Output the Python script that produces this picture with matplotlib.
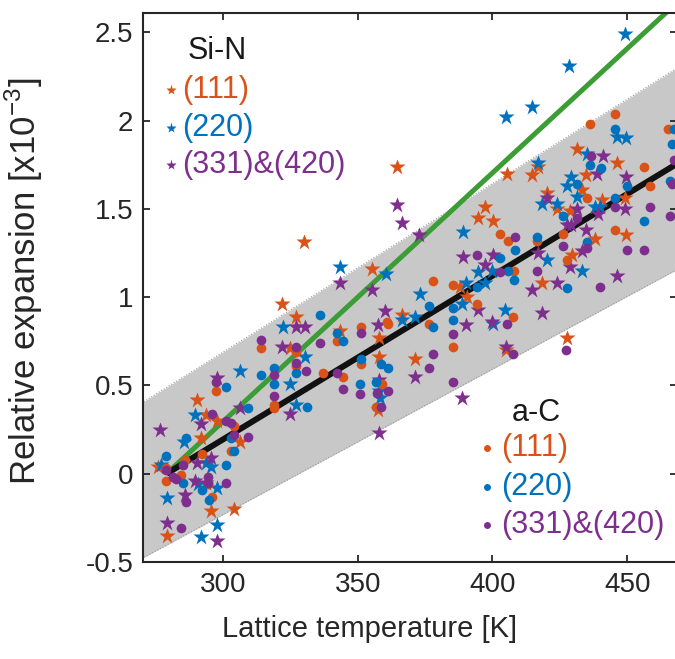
import numpy as np
import matplotlib.pyplot as plt
from matplotlib.ticker import FuncFormatter

# colours (MATLAB default order)
c111 = '#D95319'
c220 = '#0072BD'
c331 = '#7E2F8E'

# ---- Si-N (stars) ----
sin111_T = [322, 327, 325, 290.5, 293.8, 297.8, 291.9, 306.2, 275.9, 295.4, 304.1, 279.2,
            330.1, 364.7, 355.2, 397.2, 394.8, 400.1, 388.0, 390.5, 366.3, 358.0, 343.4, 358.0,
            371.3, 357.6, 405.3, 431.3, 446.1, 417.0, 414.6, 434.7, 433.1, 420.2, 423.9, 440.6,
            449.2, 428.8, 449.6, 438.1, 429.4, 418.3, 405.0, 427.6]
sin111_V = [0.96, 0.89, 0.71, 0.42, 0.33, 0.30, 0.20, 0.18, 0.04, -0.21, -0.20, -0.35,
            1.31, 1.74, 1.16, 1.51, 1.45, 1.43, 1.06, 1.00, 0.90, 0.77, 0.81, 0.66,
            0.65, 0.36, 1.70, 1.84, 1.76, 1.74, 1.69, 1.69, 1.61, 1.59, 1.50, 1.55,
            1.56, 1.49, 1.35, 1.33, 1.24, 1.08, 0.70, 0.77]

sin220_T = [322.3, 330.5, 306.2, 325.0, 327.2, 289.5, 285.4, 293.8, 295.7, 277.1, 290.7, 297.8,
            279.2, 297.8, 291.9, 343.4, 360.4, 373.1, 389.0, 394.8, 399.7, 390.1, 397.2, 405.0,
            366.3, 371.3, 388.6, 400.3, 358.0, 358.3, 449.2, 428.5, 414.6, 446.1, 449.6, 435.0,
            417.0, 429.2, 427.6, 431.3, 418.3, 423.9, 438.1, 440.0, 420.2, 433.1, 404.6]
sin220_V = [0.83, 0.66, 0.58, 0.51, 0.39, 0.33, 0.18, 0.06, 0.04, 0.05, -0.06, -0.08,
            -0.14, -0.29, -0.36, 1.17, 1.13, 1.02, 1.37, 1.14, 1.15, 1.08, 1.08, 2.02,
            0.87, 0.89, 0.96, 0.85, 0.47, 0.43, 2.49, 2.31, 2.08, 1.91, 1.90, 1.81,
            1.76, 1.68, 1.63, 1.57, 1.53, 1.53, 1.51, 1.51, 1.21, 1.15, 0.93]

sin331_T = [327.2, 330.5, 322.0, 297.8, 306.2, 324.8, 291.9, 276.7, 295.4, 290.3, 289.5, 293.8,
            285.8, 279.2, 297.8, 364.5, 366.3, 372.9, 343.4, 355.2, 389.0, 400.3, 397.2, 360.1,
            357.6, 394.8, 390.2, 399.7, 371.3, 388.6, 358.0, 358.0, 441.2, 438.7, 449.6, 420.2,
            449.2, 431.3, 439.3, 427.6, 429.1, 434.7, 433.1, 417.0, 428.8, 446.1, 423.9, 414.6,
            418.3, 405.0]
sin331_V = [0.83, 0.83, 0.72, 0.54, 0.37, 0.34, 0.28, 0.25, 0.09, 0.06, -0.04, -0.05,
            -0.12, -0.28, -0.38, 1.52, 1.42, 1.35, 1.08, 1.04, 1.23, 1.24, 1.18, 0.92,
            0.84, 0.93, 0.84, 0.86, 0.55, 0.43, 0.53, 0.23, 1.80, 1.70, 1.68, 1.56,
            1.50, 1.50, 1.47, 1.41, 1.41, 1.38, 1.26, 1.25, 1.17, 1.12, 1.08, 1.04,
            0.91, 0.72]

# ---- a-C (dots) ----
ac111_T = [314.2, 327.2, 327.2, 318.9, 318.9, 297.5, 303.9, 303.1, 292.3, 285.8, 278.9, 284.5,
           278.9, 294.4, 296.0, 402.8, 378.1, 385.5, 360.8, 361.4, 376.6, 394.4, 385.5, 351.1,
           342.2, 351.1, 337.0, 344.7, 358.9, 356.8, 445.5, 436.2, 465.3, 456.4, 458.5, 435.2,
           426.3, 445.5, 405.9, 416.4, 427.6, 408.0, 407.8]
ac111_V = [0.71, 0.69, 0.61, 0.39, 0.37, 0.47, 0.27, 0.13, 0.11, 0.08, 0.03, -0.01,
           -0.04, -0.06, -0.13, 1.36, 1.09, 1.07, 0.86, 0.85, 0.85, 0.96, 0.72, 0.83,
           0.75, 0.62, 0.57, 0.55, 0.51, 0.38, 2.04, 1.98, 1.95, 1.74, 1.63, 1.56,
           1.36, 1.38, 1.32, 1.32, 1.21, 1.15, 0.89]

ac220_T = [335.9, 327.2, 314.2, 318.9, 318.9, 331.0, 301.2, 309.3, 303.1, 303.9, 286.4, 278.9,
           301.2, 285.1, 292.3, 294.8, 402.8, 394.2, 376.6, 378.1, 385.5, 385.5, 342.2, 344.7,
           351.1, 358.7, 361.4, 350.8, 356.8, 445.5, 467.2, 466.6, 436.2, 440.2, 431.3, 450.1,
           465.9, 445.5, 426.3, 456.4, 416.4, 408.4, 435.2, 405.6, 408.0, 427.6]
ac220_V = [0.90, 0.57, 0.56, 0.60, 0.51, 0.38, 0.49, 0.37, 0.20, 0.13, 0.20, 0.10,
           0.05, -0.05, -0.09, -0.15, 1.22, 1.06, 0.95, 0.83, 0.94, 0.87, 0.80, 0.75,
           0.65, 0.62, 0.60, 0.51, 0.52, 1.95, 1.95, 1.87, 1.75, 1.73, 1.64, 1.63,
           1.66, 1.56, 1.46, 1.43, 1.34, 1.27, 1.31, 1.15, 1.10, 1.05]

ac331_T = [314.2, 327.2, 327.2, 330.9, 335.9, 318.9, 318.9, 297.5, 296.0, 301.2, 303.1, 303.9,
           309.3, 285.1, 278.9, 282.7, 294.4, 294.4, 301.2, 286.4, 284.3, 281.4, 394.4, 402.8,
           351.1, 385.5, 378.1, 376.6, 385.5, 342.2, 344.7, 350.8, 357.0, 361.4, 358.7, 436.5,
           467.2, 466.6, 445.5, 431.3, 458.3, 465.9, 408.4, 426.3, 435.2, 450.1, 456.4, 416.4,
           439.9, 405.3, 407.8, 427.3]
ac331_V = [0.76, 0.72, 0.63, 0.58, 0.74, 0.56, 0.44, 0.52, 0.34, 0.30, 0.29, 0.22,
           0.21, 0.05, 0.02, -0.03, -0.02, -0.05, -0.05, -0.16, -0.31, -0.02, 1.24, 1.14,
           0.80, 0.79, 0.68, 0.60, 0.52, 0.57, 0.48, 0.45, 0.46, 0.47, 0.38, 1.80,
           1.78, 1.64, 1.51, 1.45, 1.51, 1.46, 1.34, 1.29, 1.28, 1.27, 1.27, 1.15,
           1.06, 0.85, 0.68, 0.70]

# fit lines and band
fit_T = [279, 470]
black_V = [0.0, 1.77]
green_V = [0.0, 2.69]
band_T = [265, 475]
band_up = [0.355, 2.36]
band_lo = [-0.52, 1.21]

plt.rcParams['font.family'] = ['Liberation Sans', 'DejaVu Sans']

fig = plt.figure(figsize=(6.75, 6.59), dpi=100)
ax = fig.add_axes([0.2119, 0.1472, 0.7911, 0.8331])

ax.fill_between(band_T, band_lo, band_up, color='#c8c8c8', lw=0, zorder=1)
ax.plot(band_T, band_up, ls=':', color='#9a9a9a', lw=0.8, zorder=1)
ax.plot(band_T, band_lo, ls=':', color='#9a9a9a', lw=0.8, zorder=1)

ax.plot(fit_T, green_V, color='#3C9C35', lw=3.6, solid_capstyle='butt', zorder=2)
ax.plot(fit_T, black_V, color='#111111', lw=4.3, solid_capstyle='butt', zorder=2)

ms_star, ms_dot = 12, 7
for T, V, c in [(sin111_T, sin111_V, c111), (sin220_T, sin220_V, c220), (sin331_T, sin331_V, c331)]:
    ax.plot(T, V, ls='none', marker='*', ms=ms_star, color=c, mec='none', zorder=3)
for T, V, c in [(ac111_T, ac111_V, c111), (ac220_T, ac220_V, c220), (ac331_T, ac331_V, c331)]:
    ax.plot(T, V, ls='none', marker='o', ms=ms_dot, color=c, mec='none', zorder=3)

ax.set_xlim(270.3, 468.5)
ax.set_ylim(-0.5, 2.61)
ax.set_xticks([300, 350, 400, 450])
ax.set_yticks([-0.5, 0, 0.5, 1, 1.5, 2, 2.5])
ax.yaxis.set_major_formatter(FuncFormatter(lambda v, p: '%g' % v))
ax.tick_params(direction='in', length=5, width=1.3, labelsize=20, top=True, right=True,
               color='#262626', labelcolor='#262626', pad=7)
for s in ax.spines.values():
    s.set_linewidth(1.5)
    s.set_color('#262626')

ax.set_xlabel('Lattice temperature [K]', fontsize=21, color='#262626')
ax.xaxis.set_label_coords(0.425, -0.096)
ax.set_ylabel(r'Relative expansion [x10$^{\mathregular{-3}}$]', fontsize=25, color='#262626')
ax.yaxis.set_label_coords(-0.183, 0.512)

# in-plot legends
ax.text(0.084, 0.931, 'Si-N', transform=ax.transAxes, fontsize=22, va='center', color='#1a1a1a')
for yy, lab, c in [(0.860, '(111)', c111), (0.790, '(220)', c220), (0.723, '(331)&(420)', c331)]:
    ax.plot([0.052], [yy], transform=ax.transAxes, marker='*', ms=8, color=c, mec='none', clip_on=False)
    ax.text(0.073, yy, lab, transform=ax.transAxes, fontsize=22, va='center', color=c)
ax.text(0.691, 0.271, 'a-C', transform=ax.transAxes, fontsize=22, va='center', color='#1a1a1a')
for yy, lab, c in [(0.208, '(111)', c111), (0.137, '(220)', c220), (0.067, '(331)&(420)', c331)]:
    ax.plot([0.644], [yy], transform=ax.transAxes, marker='o', ms=5, color=c, mec='none', clip_on=False)
    ax.text(0.670, yy, lab, transform=ax.transAxes, fontsize=22, va='center', color=c)

plt.savefig('out.png', dpi=100)
